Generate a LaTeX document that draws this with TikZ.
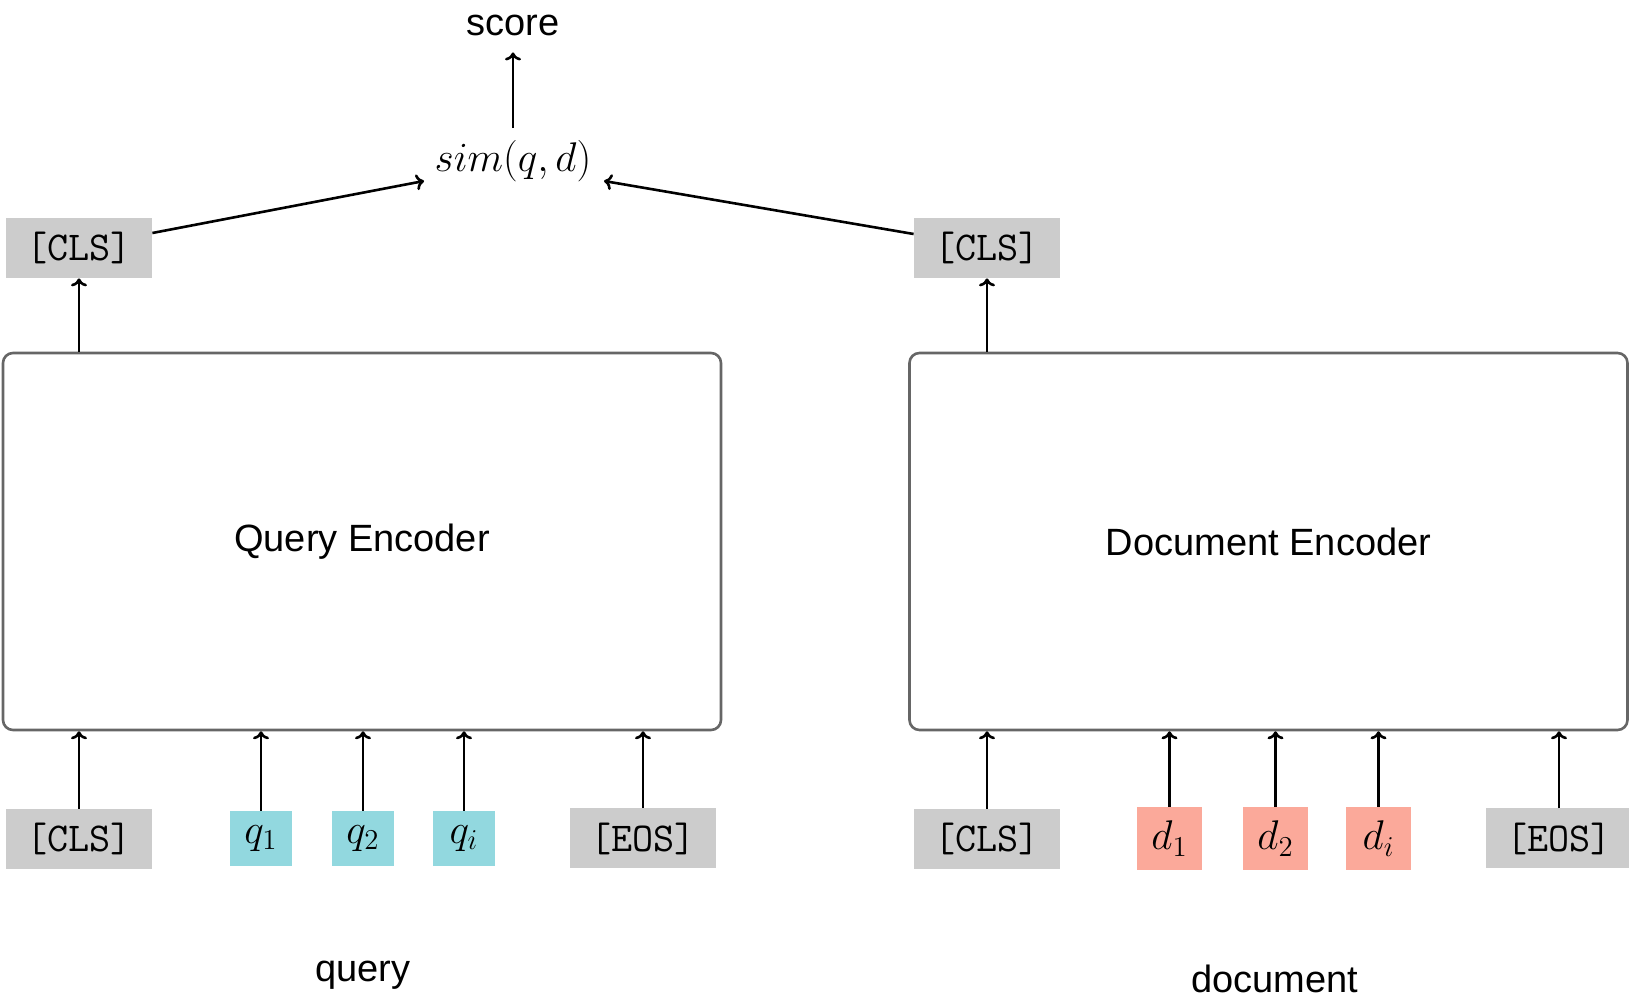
\documentclass[tikz,border=0pt]{standalone}
\usepackage[no-math]{fontspec}
\setmainfont{Liberation Sans}
\usetikzlibrary{arrows.meta}
\definecolor{tokgray}{HTML}{CCCCCC}
\definecolor{qcyan}{HTML}{92D8DF}
\definecolor{dsalmon}{HTML}{FBA99A}
\definecolor{encborder}{HTML}{666666}
\tikzset{
  every node/.style={font=\fontsize{19}{23}\selectfont},
  mathtext/.style={font=\fontsize{20.5}{25}\selectfont},
  special/.style={fill=tokgray, minimum width=73pt, minimum height=30pt, inner sep=0pt, font=\fontsize{20.5}{24}\selectfont\ttfamily},
  qtok/.style={fill=qcyan, minimum width=31pt, minimum height=27.5pt, inner sep=0pt, mathtext},
  dtok/.style={fill=dsalmon, minimum width=32.5pt, minimum height=31.5pt, inner sep=0pt, mathtext},
  encoder/.style={draw=encborder, line width=1.3pt, rounded corners=5pt, minimum width=359pt, minimum height=188.5pt, inner sep=0pt},
  flow/.style={-{To[length=4pt,width=8pt]}, line width=1.3pt}
}
\begin{document}
\begin{tikzpicture}[x=0.5pt, y=-0.5pt]
\useasboundingbox (0,0) rectangle (1629,999);

% encoders
\node[encoder] (qenc) at (362,541.5) {Query Encoder};
\node[encoder] (denc) at (1268.5,541.5) {Document Encoder};

% query-side input tokens
\node[special] (qcls) at (79,839) {[CLS]};
\node[qtok] (q1) at (261,838.5) {$q_1$};
\node[qtok] (q2) at (363,838.5) {$q_2$};
\node[qtok] (qi) at (464,838.5) {$q_i$};
\node[special] (qeos) at (643,838.5) {[EOS]};

% document-side input tokens
\node[special] (dcls) at (987,839) {[CLS]};
\node[dtok] (d1) at (1169.5,838.5) {$d_1$};
\node[dtok] (d2) at (1275.5,838.5) {$d_2$};
\node[dtok] (di) at (1378.5,838.5) {$d_i$};
\node[special] (deos) at (1559,838.5) {[EOS]};

% pooled outputs
\node[special] (qout) at (79,248) {[CLS]};
\node[special] (dout) at (987,248) {[CLS]};

% similarity and score
\node[mathtext] (sim) at (513,161) {$sim(q,d)$};
\node (score) at (513,25) {score};
\coordinate (simL) at (424,181);
\coordinate (simR) at (604,181);

% captions
\node (qlabel) at (363,975) {query};
\node (dlabel) at (1275,979) {document};

% inputs into encoders
\foreach \t in {qcls,q1,q2,qi,qeos}
  \draw[flow] (\t.north) -- (\t.north |- qenc.south);
\foreach \t in {dcls,d1,d2,di,deos}
  \draw[flow] (\t.north) -- (\t.north |- denc.south);

% encoders to pooled outputs
\draw[flow] (qout.south |- qenc.north) -- (qout.south);
\draw[flow] (dout.south |- denc.north) -- (dout.south);

% pooled outputs to similarity
\draw[flow] ([yshift=7.5pt]qout.east) -- (simL);
\draw[flow] ([yshift=7pt]dout.west) -- (simR);
\draw[flow] ([yshift=2.5pt]sim.north) -- ([yshift=-5pt]score.south);
\end{tikzpicture}
\end{document}
